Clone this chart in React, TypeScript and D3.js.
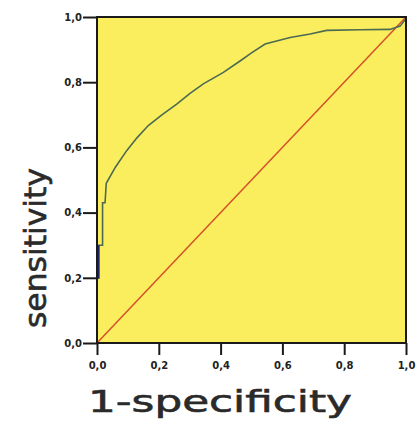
import React, { useEffect, useRef } from "react";
import * as d3 from "d3";

// ROC curve points (1-specificity, sensitivity)
const fpr = [0, 0, 0.005, 0.005, 0.018, 0.018, 0.026, 0.03, 0.06, 0.096, 0.13, 0.166, 0.21, 0.258, 0.3, 0.344, 0.409, 0.463, 0.5, 0.544, 0.625, 0.69, 0.743, 0.85, 0.948, 0.981, 1.0];
const tpr = [0, 0.2, 0.2, 0.3, 0.3, 0.43, 0.43, 0.49, 0.54, 0.59, 0.63, 0.667, 0.7, 0.733, 0.765, 0.795, 0.83, 0.865, 0.89, 0.917, 0.937, 0.948, 0.959, 0.961, 0.962, 0.972, 0.995];
const refLine = [0, 1];
const tickValues = [0, 0.2, 0.4, 0.6, 0.8, 1.0];

const W = 420;
const H = 423;
const margin = { top: 17, right: 14, bottom: 80, left: 97 };

export default function App() {
  const ref = useRef<SVGSVGElement>(null);

  useEffect(() => {
    const svg = d3.select(ref.current);
    svg.selectAll("*").remove();

    const x = d3.scaleLinear().domain([0, 1]).range([margin.left, W - margin.right]);
    const y = d3.scaleLinear().domain([0, 1]).range([H - margin.bottom, margin.top]);
    const fmt = (d: number) => d3.format(".1f")(d).replace(".", ",");

    // plot background
    svg
      .append("rect")
      .attr("x", x(0))
      .attr("y", y(1))
      .attr("width", x(1) - x(0))
      .attr("height", y(0) - y(1))
      .attr("fill", "#faee5e");

    // reference diagonal
    svg
      .append("path")
      .datum(refLine)
      .attr("d", d3.line<number>().x((d) => x(d)).y((d) => y(d)))
      .attr("stroke", "#d4502c")
      .attr("stroke-width", 1.5)
      .attr("fill", "none");

    // ROC curve
    const pts = fpr.map((f, i) => [f, tpr[i]] as [number, number]);
    const line = d3.line<[number, number]>().x((d) => x(d[0])).y((d) => y(d[1]));
    svg
      .append("path")
      .datum(pts)
      .attr("d", line)
      .attr("stroke", "#4c6a52")
      .attr("stroke-width", 1.6)
      .attr("fill", "none");
    svg
      .append("path")
      .datum(pts.slice(0, 4))
      .attr("d", line)
      .attr("stroke", "#1c2466")
      .attr("stroke-width", 2)
      .attr("fill", "none");

    // frame
    svg
      .append("rect")
      .attr("x", x(0))
      .attr("y", y(1))
      .attr("width", x(1) - x(0))
      .attr("height", y(0) - y(1))
      .attr("fill", "none")
      .attr("stroke", "#1a1a1a")
      .attr("stroke-width", 2);

    // axes
    const xAxis = svg
      .append("g")
      .attr("transform", `translate(0,${y(0)})`)
      .call(d3.axisBottom(x).tickValues(tickValues).tickSize(12).tickPadding(7).tickFormat(fmt as any));
    const yAxis = svg
      .append("g")
      .attr("transform", `translate(${x(0)},0)`)
      .call(d3.axisLeft(y).tickValues(tickValues).tickSize(14).tickPadding(1).tickFormat(fmt as any));

    [xAxis, yAxis].forEach((g) => {
      g.select(".domain").remove();
      g.selectAll(".tick line").attr("stroke", "#1a1a1a").attr("stroke-width", 2);
      g.selectAll(".tick text")
        .attr("fill", "#222")
        .attr("font-family", "DejaVu Sans, sans-serif")
        .attr("font-weight", "bold")
        .attr("font-size", 10);
    });

    // axis titles
    const titleStyle = (t: d3.Selection<SVGTextElement, unknown, null, undefined>) =>
      t
        .attr("lengthAdjust", "spacingAndGlyphs")
        .attr("font-family", "DejaVu Sans, sans-serif")
        .attr("font-size", 30)
        .attr("fill", "#2a2a2a")
        .attr("stroke", "#2a2a2a")
        .attr("stroke-width", 0.6);

    svg
      .append("text")
      .attr("x", 88)
      .attr("y", 412)
      .attr("textLength", 264)
      .call(titleStyle)
      .text("1-specificity");

    svg
      .append("text")
      .attr("transform", `translate(46,328) rotate(-90)`)
      .attr("textLength", 160)
      .call(titleStyle)
      .text("sensitivity");
  }, []);

  return (
    <svg
      ref={ref}
      width={W}
      height={H}
      style={{ position: "absolute", left: 0, top: 0, background: "#fff" }}
    />
  );
}
